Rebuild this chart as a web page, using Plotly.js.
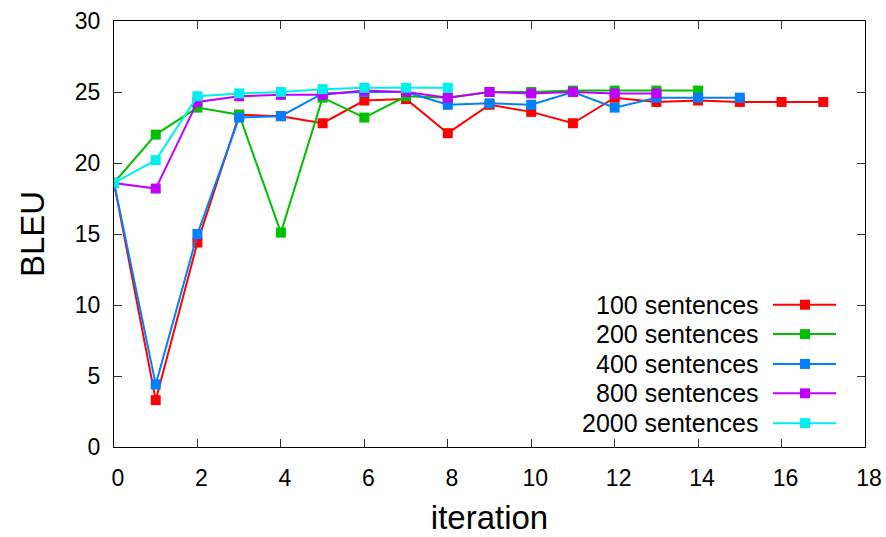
<!DOCTYPE html>
<html><head><meta charset="utf-8">
<script src="https://cdn.plot.ly/plotly-3.0.1.min.js"></script>
<style>body{margin:0;background:#fff}#plot{width:886px;height:537px}</style>
</head><body><div id="plot"></div>
<script>
const seriesNames = ["100 sentences","200 sentences","400 sentences","800 sentences","2000 sentences"];
const seriesColors = ["#ff0000","#00c000","#0080ff","#c000ff","#00eeee"];
const bleu100  = [18.6,3.3,14.4,23.4,23.3,22.8,24.4,24.5,22.1,24.1,23.6,22.8,24.6,24.3,24.4,24.3,24.3,24.3];
const bleu200  = [18.6,22.0,23.9,23.4,15.1,24.6,23.2,24.7,24.6,25.0,25.0,25.1,25.1,25.1,25.1];
const bleu400  = [18.6,4.4,15.0,23.2,23.3,24.9,25.0,25.0,24.1,24.2,24.1,25.0,23.9,24.6,24.6,24.6];
const bleu800  = [18.6,18.2,24.3,24.7,24.8,24.8,25.1,25.0,24.6,25.0,24.9,25.0,24.9,24.9];
const bleu2000 = [18.6,20.2,24.7,24.9,25.0,25.2,25.3,25.3,25.3];
const allSeries = [bleu100,bleu200,bleu400,bleu800,bleu2000];

const FONT = 'Liberation Sans, Arial, sans-serif';
const traces = allSeries.map((vals,i)=>({
  x: vals.map((v,k)=>k), y: vals, type:'scatter', mode:'lines+markers',
  name: seriesNames[i], showlegend:false,
  line:{color:seriesColors[i], width:2},
  marker:{color:seriesColors[i], symbol:'square', size:10}
}));

// gnuplot-style key: text on the left, sample on the right
const PW = 751, PH = 426;
const keyY = [0.334,0.265,0.195,0.126,0.056];
const annotations = [], shapes = [];
seriesNames.forEach((n,i)=>{
  annotations.push({xref:'paper',yref:'paper',x:(761-114)/PW,y:keyY[i],xanchor:'right',yanchor:'middle',
    text:n,showarrow:false,font:{family:FONT,size:25,color:'#000'}});
  shapes.push({type:'line',xref:'paper',yref:'paper',x0:(773-114)/PW,x1:(836-114)/PW,y0:keyY[i],y1:keyY[i],
    line:{color:seriesColors[i],width:2}});
  const cx = (805-114)/PW, hw = 5/PW, hh = 5/PH;
  shapes.push({type:'rect',xref:'paper',yref:'paper',x0:cx-hw,x1:cx+hw,y0:keyY[i]-hh,y1:keyY[i]+hh,
    line:{width:0},fillcolor:seriesColors[i]});
});

const axisCommon = {showgrid:false, zeroline:false, ticks:'inside', ticklen:8, tickwidth:1,
  tickcolor:'#333', showline:true, linecolor:'#000', linewidth:1, mirror:'allticks',
  tickfont:{family:FONT, size:23, color:'#000'}};

const layout = {
  width:886, height:537, margin:{l:114,r:21,t:21,b:90},
  paper_bgcolor:'#fff', plot_bgcolor:'#fff', showlegend:false,
  xaxis:Object.assign({}, axisCommon, {range:[0,18], tickvals:[0,2,4,6,8,10,12,14,16,18],
    ticklabelshift:4, ticklabelstandoff:10,
    title:{text:'iteration', standoff:16, font:{family:FONT, size:33, color:'#000'}}}),
  yaxis:Object.assign({}, axisCommon, {range:[0,30], tickvals:[0,5,10,15,20,25,30],
    ticklabelstandoff:8,
    title:{text:'BLEU', standoff:20, font:{family:FONT, size:33, color:'#000'}}}),
  annotations, shapes
};
Plotly.newPlot('plot', traces, layout, {displayModeBar:false, staticPlot:true});
</script></body></html>
